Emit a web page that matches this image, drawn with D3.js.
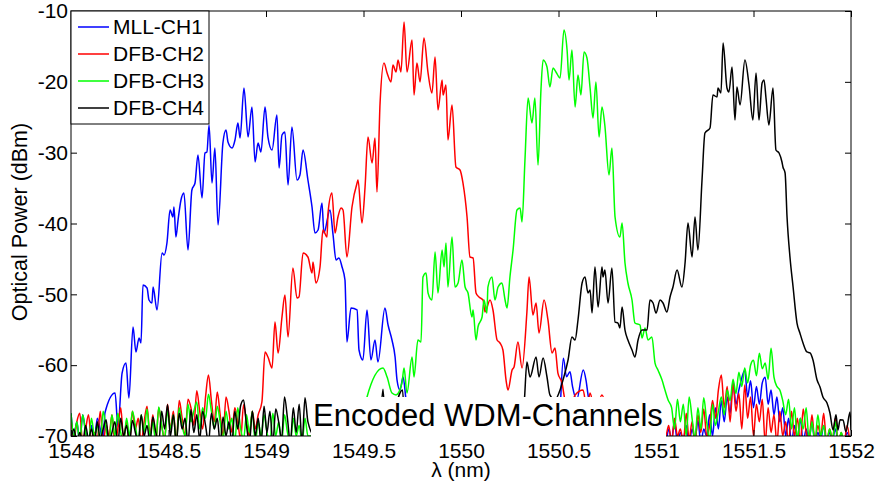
<!DOCTYPE html>
<html><head><meta charset="utf-8">
<script src="https://cdn.jsdelivr.net/npm/d3@7"></script>
<style>
body{margin:0;background:#fff}
text{font-family:"Liberation Sans",Arial,Helvetica,sans-serif}
</style>
</head><body>
<svg id="chart" width="881" height="486"></svg>
<script>
// ---------------- data ----------------
const seriesNames = ["MLL-CH1", "DFB-CH2", "DFB-CH3", "DFB-CH4"];
const seriesColors = ["#0000ff", "#ff0000", "#00ff00", "#000000"];
const xTicks = [1548, 1548.5, 1549, 1549.5, 1550, 1550.5, 1551, 1551.5, 1552];
const yTicks = [-70, -60, -50, -40, -30, -20, -10];
const xLabel = "λ (nm)";
const yLabel = "Optical Power (dBm)";
const annotation = "Encoded WDM-Channels";

// noise floor samples (regular wavelength grid, step in nm)
const floorStep = 0.015;
const leftFloorStart = 1548.0;
const blueRightStart = 1551.05, redRightStart = 1551.05, greenRightStart = 1551.08;

const blueFloorLeft = [-66.8,-70,-68,-71,-67,-69.5,-71,-68.5,-70.5,-67.5,-69,-71];
const redFloorLeft = [-67.5,-70.5,-68,-66.8,-71,-69,-67,-71,-69.5,-70.5,
  -66.5,-71,-68.5,-70,-67,-71,-69,-66,-70.5,-68,
  -71,-66.5,-69,-67.5,-71,-68,-65.8,-70,-67,-71,
  -66,-68.5,-70.5,-65.5,-69,-66.5,-71,-65,-67.5,-70,
  -64.8,-66,-68.5,-63.6,-66.5,-69,-64.5,-61.4,-65,-68,
  -63.8,-67,-70,-64.5,-66.5,-69.5,-66,-68,-70.5,-65.6,
  -68,-70,-66.5,-69,-67];
const greenFloorLeft = [-66.8,-70,-68,-71,-67,-69.5,-71,-67.5,-70,-68.5,
  -71,-66.5,-69,-71,-67,-70,-66.8,-69.5,-71,-67.5,
  -70,-66.5,-68.5,-71,-67,-69.5,-66.2,-70,-68,-71,
  -65.9,-68.5,-70.5,-66.5,-69,-67,-71,-66,-68.5,-70,
  -65.5,-68,-66.5,-65.2,-69,-66,-67.5,-64.1,-66.5,-69,
  -65.8,-68,-70.5,-66.5,-69,-67.5,-71,-66,-69,-70.5,
  -67,-69.5,-66.5,-71,-68,-70,-67,-69.5,-71,-66.8,
  -70,-68,-71,-67,-69.5,-71,-67.5,-70,-68.5,-71,
  -67.5,-70];
const blackFloorLeft = [-70.5,-69,-71,-69.5,-71,-68.5,-70.5,-69,-71,-68,
  -70.5,-69,-67.7,-71,-69.5,-68,-71,-67.5,-70,-68.5,
  -71,-67.8,-69.5,-71,-67,-70,-68.5,-71,-67.3,-69.5,
  -71,-66.5,-69,-65.6,-70,-67,-71,-66.8,-69,-67.5,
  -71,-66.3,-69.5,-67,-70.5,-66.5,-68.5,-71,-66.8,-69,
  -67.5,-71,-67.3,-70,-68,-71,-66.5,-69,-65.7,-64.9,
  -68.5,-71,-66.5,-70,-67.5,-71,-65.8,-69.5,-66.5,-71,
  -66.2,-68,-70.5,-64.5,-67.5,-71,-66,-69.5,-65.5,-71,
  -64.6,-68];

const blueFloorRight = [-71,-69,-70.5,-68,-71,-69.5,-70.5,-68.5,-71,-69,
  -70.5,-67.8,-71,-69,-70,-67,-70,-66,-69,-65,
  -68,-64.5,-66.8,-62.4,-65.5,-63.5,-61.8,-60.7,-64.5,-62.2,
  -66,-63,-65.5,-62.5,-61.7,-65.5,-63.5,-67,-64.5,-68,
  -66,-70,-67.5,-71,-68.5,-70.5,-67.5,-71,-69,-70.5,
  -68,-71,-69.5,-70.5,-68.5,-71,-69.5,-70.5,-69,-71,
  -70,-71,-69.5,-71];
const redFloorRight = [-70,-68.5,-71,-67.5,-70,-69,-71,-66.8,-70.5,-68,
  -71,-67,-69.5,-66.2,-70,-68.5,-65,-67.5,-63.5,-61.4,
  -66,-63,-68,-62.5,-66.5,-64,-69,-62.8,-67.5,-64.5,
  -70,-65.5,-68,-64.8,-71,-66,-69.5,-67,-71,-66.5,
  -70,-68,-71,-66.5,-70,-67.5,-71,-66.2,-69.5,-70.5,
  -67,-71,-68.5,-70,-66.8,-71,-69,-70.5,-67.5,-71,
  -69.5,-71,-68.5,-71];
const greenFloorRight = [-66,-69,-64.8,-68,-65.5,-70,-64.5,-67.5,-70.5,-66,
  -69,-64.6,-68,-70.5,-65.5,-68.5,-66.5,-64.5,-67,-63.5,
  -65,-62,-64,-61,-63,-60.4,-62.5,-60,-59.3,-61.5,
  -58.3,-60.5,-59.7,-62,-57.6,-61.7,-63,-63.5,-65,-67,
  -64.8,-69,-66,-70.5,-67.5,-69,-66,-70.5,-68,-71,
  -67,-70,-68.5,-71,-69,-70.5,-68,-71,-69.5,-71,
  -70,-71];

// main spectra: [wavelength nm, power dBm]
const blueMain = [[1548.174,-66.75],[1548.226,-63.93],[1548.241,-68.73],[1548.262,-61.11],[1548.282,-59.70],[1548.297,-64.64],[1548.318,-54.61],[1548.333,-58.14],[1548.349,-56.16],[1548.359,-56.87],[1548.369,-48.68],[1548.390,-49.11],[1548.400,-50.80],[1548.415,-51.22],[1548.421,-48.97],[1548.441,-52.21],[1548.467,-44.17],[1548.477,-44.45],[1548.492,-42.75],[1548.508,-38.09],[1548.523,-39.08],[1548.528,-37.67],[1548.538,-41.91],[1548.549,-39.51],[1548.564,-36.68],[1548.579,-35.69],[1548.600,-43.74],[1548.620,-35.27],[1548.636,-34.28],[1548.651,-30.33],[1548.672,-36.40],[1548.687,-30.05],[1548.697,-29.91],[1548.708,-26.09],[1548.723,-34.28],[1548.738,-29.34],[1548.754,-40.21],[1548.779,-28.64],[1548.795,-26.80],[1548.805,-28.49],[1548.826,-29.34],[1548.841,-28.21],[1548.856,-25.81],[1548.867,-27.93],[1548.887,-20.87],[1548.908,-27.79],[1548.928,-23.55],[1548.944,-31.32],[1548.959,-28.64],[1548.974,-29.91],[1548.995,-23.55],[1549.010,-27.79],[1549.031,-29.62],[1549.056,-24.68],[1549.067,-32.17],[1549.082,-27.51],[1549.097,-27.08],[1549.113,-34.57],[1549.133,-26.38],[1549.159,-33.86],[1549.174,-33.15],[1549.190,-29.62],[1549.215,-33.86],[1549.236,-37.67],[1549.251,-41.34],[1549.267,-40.92],[1549.287,-37.11],[1549.297,-41.34],[1549.328,-38.09],[1549.344,-41.62],[1549.359,-45.15],[1549.374,-44.87],[1549.390,-46.14],[1549.405,-47.98],[1549.415,-56.73],[1549.436,-51.93],[1549.467,-52.21],[1549.477,-57.86],[1549.497,-59.27],[1549.518,-52.21],[1549.538,-59.27],[1549.559,-56.45],[1549.574,-59.55],[1549.610,-51.93],[1549.626,-54.33],[1549.646,-56.45],[1549.662,-58.85],[1549.672,-62.10],[1549.687,-63.51],[1549.703,-61.67],[1549.718,-64.92],[1549.74,-70],[1550.0,-70.5],[1550.5,-69],[1550.525,-59.03],[1550.541,-61.63],[1550.559,-60.92],[1550.572,-63.04],[1550.593,-64.92],[1550.627,-60.68],[1550.641,-62.10],[1550.653,-64.45],[1550.67,-66.3],[1550.72,-69],[1551.0,-70.5]];

const redMain = [[1548.979,-65.20],[1548.995,-58.14],[1549.010,-58.85],[1549.031,-60.40],[1549.046,-53.91],[1549.062,-58.28],[1549.082,-53.20],[1549.097,-50.10],[1549.113,-56.02],[1549.138,-46.28],[1549.159,-50.52],[1549.169,-50.38],[1549.190,-44.17],[1549.215,-44.73],[1549.236,-46.99],[1549.241,-45.44],[1549.256,-48.40],[1549.277,-46.14],[1549.292,-40.92],[1549.313,-41.91],[1549.318,-38.52],[1549.338,-35.69],[1549.354,-41.34],[1549.369,-39.08],[1549.385,-37.81],[1549.395,-38.09],[1549.415,-44.73],[1549.441,-37.67],[1549.467,-34.28],[1549.472,-33.86],[1549.492,-39.93],[1549.508,-34.85],[1549.523,-27.79],[1549.544,-31.46],[1549.559,-27.93],[1549.569,-35.55],[1549.585,-22.99],[1549.605,-17.34],[1549.621,-18.75],[1549.641,-20.02],[1549.651,-17.62],[1549.667,-18.61],[1549.677,-16.92],[1549.692,-18.61],[1549.708,-11.55],[1549.723,-18.61],[1549.749,-14.09],[1549.759,-21.86],[1549.774,-17.34],[1549.790,-20.02],[1549.810,-13.81],[1549.831,-18.75],[1549.851,-21.58],[1549.867,-16.49],[1549.882,-23.98],[1549.903,-19.74],[1549.908,-21.86],[1549.923,-20.45],[1549.933,-28.21],[1549.954,-23.27],[1549.974,-32.02],[1549.995,-32.45],[1550.010,-34.28],[1550.031,-39.08],[1550.046,-44.73],[1550.062,-44.87],[1550.077,-49.81],[1550.092,-50.38],[1550.113,-50.80],[1550.123,-52.49],[1550.149,-50.80],[1550.164,-52.21],[1550.185,-56.45],[1550.200,-56.87],[1550.215,-57.86],[1550.231,-62.10],[1550.241,-63.51],[1550.262,-60.68],[1550.272,-60.26],[1550.292,-56.73],[1550.313,-60.40],[1550.338,-52.49],[1550.349,-47.55],[1550.369,-52.92],[1550.385,-51.22],[1550.400,-55.46],[1550.426,-50.80],[1550.446,-53.62],[1550.467,-58.28],[1550.482,-57.58],[1550.497,-61.11],[1550.518,-62.52],[1550.533,-64.9],[1550.559,-66.3],[1550.585,-64.2],[1550.626,-63.5],[1550.646,-66.3],[1550.662,-63.93],[1550.687,-66.8],[1550.723,-64.2],[1550.754,-67],[1550.8,-70],[1551.03,-69]];

const greenMain = [[1549.25,-70],[1549.45,-70.5],[1549.50,-68],[1549.518,-64.49],[1549.600,-60.40],[1549.621,-61.67],[1549.646,-63.93],[1549.667,-64.2],[1549.697,-62.52],[1549.708,-60.40],[1549.723,-63.93],[1549.749,-58.85],[1549.759,-61.67],[1549.779,-56.45],[1549.795,-56.73],[1549.805,-47.55],[1549.821,-46.99],[1549.831,-49.81],[1549.851,-50.80],[1549.867,-44.02],[1549.882,-49.81],[1549.903,-43.74],[1549.913,-46.14],[1549.923,-42.75],[1549.933,-48.97],[1549.954,-41.91],[1549.969,-48.97],[1549.985,-48.40],[1550.005,-45.15],[1550.021,-48.97],[1550.036,-49.81],[1550.056,-53.20],[1550.062,-52.21],[1550.077,-56.45],[1550.087,-54.61],[1550.108,-53.20],[1550.118,-50.80],[1550.133,-52.64],[1550.138,-48.97],[1550.159,-47.55],[1550.174,-50.80],[1550.190,-48.97],[1550.210,-48.40],[1550.226,-50.80],[1550.236,-51.93],[1550.251,-47.55],[1550.267,-43.74],[1550.287,-38.09],[1550.303,-37.81],[1550.313,-39.79],[1550.328,-31.04],[1550.344,-22.28],[1550.364,-25.81],[1550.379,-22.28],[1550.395,-31.75],[1550.410,-21.15],[1550.421,-16.92],[1550.441,-17.91],[1550.456,-20.73],[1550.472,-18.05],[1550.487,-18.61],[1550.508,-19.46],[1550.528,-12.68],[1550.544,-15.51],[1550.554,-19.74],[1550.569,-15.51],[1550.585,-23.55],[1550.600,-19.04],[1550.615,-21.86],[1550.631,-15.79],[1550.646,-16.64],[1550.662,-20.87],[1550.677,-25.11],[1550.692,-20.02],[1550.708,-27.79],[1550.723,-23.55],[1550.738,-26.24],[1550.759,-33.15],[1550.774,-29.34],[1550.790,-39.08],[1550.815,-41.91],[1550.826,-39.93],[1550.841,-45.58],[1550.856,-48.40],[1550.877,-50.80],[1550.892,-54.05],[1550.918,-54.33],[1550.928,-56.16],[1550.944,-54.75],[1550.959,-56.45],[1550.979,-56.02],[1550.995,-59.70],[1551.010,-60.68],[1551.031,-62.10],[1551.046,-63.51],[1551.062,-64.92]];

const blackMain = [[1549.25,-70],[1549.58,-70],[1549.60,-63.4],[1549.615,-70],[1549.70,-63.5],[1549.715,-70],[1550.30,-70],[1550.325,-65],[1550.338,-59.55],[1550.354,-61.67],[1550.385,-58.85],[1550.400,-61.67],[1550.421,-58.99],[1550.441,-61.67],[1550.456,-64.2],[1550.482,-64.9],[1550.508,-63.5],[1550.523,-62.10],[1550.549,-59.27],[1550.569,-56.02],[1550.585,-56.45],[1550.600,-53.62],[1550.621,-48.40],[1550.636,-47.55],[1550.651,-49.81],[1550.662,-49.4],[1550.672,-52.64],[1550.687,-46.14],[1550.703,-51.79],[1550.723,-46.14],[1550.728,-47.55],[1550.738,-46.57],[1550.754,-51.22],[1550.774,-46.28],[1550.790,-53.91],[1550.805,-54.05],[1550.815,-54.75],[1550.826,-51.79],[1550.841,-55.04],[1550.856,-56.45],[1550.877,-57.86],[1550.892,-58.85],[1550.908,-56.45],[1550.928,-55.04],[1550.954,-55.04],[1550.969,-50.80],[1550.985,-51.22],[1551.000,-52.64],[1551.021,-50.80],[1551.036,-51.22],[1551.056,-52.49],[1551.072,-50.38],[1551.087,-48.97],[1551.108,-46.57],[1551.133,-48.97],[1551.149,-45.58],[1551.164,-39.93],[1551.185,-44.73],[1551.200,-39.08],[1551.215,-43.74],[1551.236,-33.86],[1551.251,-27.22],[1551.277,-26.52],[1551.292,-21.86],[1551.313,-22.14],[1551.318,-20.87],[1551.333,-21.58],[1551.344,-14.52],[1551.364,-20.87],[1551.374,-21.44],[1551.390,-17.91],[1551.405,-25.39],[1551.415,-20.73],[1551.431,-23.27],[1551.456,-16.92],[1551.477,-20.45],[1551.497,-25.39],[1551.513,-18.75],[1551.528,-25.39],[1551.544,-20.16],[1551.554,-19.74],[1551.564,-22.28],[1551.579,-26.09],[1551.600,-20.87],[1551.615,-29.62],[1551.631,-30.05],[1551.646,-31.32],[1551.651,-32.02],[1551.662,-32.87],[1551.672,-39.08],[1551.687,-44.73],[1551.703,-48.97],[1551.723,-54.05],[1551.738,-55.46],[1551.754,-56.87],[1551.774,-58.14],[1551.790,-58.28],[1551.805,-59.27],[1551.826,-62.10],[1551.841,-63.08],[1551.856,-64.49],[1551.877,-65.34],[1551.892,-66.75],[1551.908,-69.15],[1551.923,-67.0],[1551.933,-69.15],[1551.944,-67.7],[1551.959,-67.74],[1551.974,-69.4],[1551.995,-66.61],[1552.0,-69.2]];

// ---------------- chart ----------------
const W = 881, H = 486;
const plot = {left: 71, right: 851, top: 11, bottom: 436};
const x = d3.scaleLinear().domain([1548, 1552]).range([plot.left, plot.right]);
const y = d3.scaleLinear().domain([-70, -10]).range([plot.bottom, plot.top]);

const grid = (vals, start) => vals.map((p, i) => [start + i * floorStep, p]);
const series = [
  grid(blueFloorLeft, leftFloorStart).concat(blueMain, grid(blueFloorRight, blueRightStart)),
  grid(redFloorLeft, leftFloorStart).concat(redMain, grid(redFloorRight, redRightStart)),
  grid(greenFloorLeft, leftFloorStart).concat(greenMain, grid(greenFloorRight, greenRightStart)),
  grid(blackFloorLeft, leftFloorStart).concat(blackMain)
];

const svg = d3.select("#chart");
svg.append("rect").attr("width", W).attr("height", H).attr("fill", "#fff");

svg.append("defs").append("clipPath").attr("id", "clip")
  .append("rect").attr("x", plot.left).attr("y", plot.top)
  .attr("width", plot.right - plot.left).attr("height", plot.bottom - plot.top);

const line = d3.line().curve(d3.curveMonotoneX).x(d => x(d[0])).y(d => y(d[1]));
const lines = svg.append("g").attr("clip-path", "url(#clip)");
series.forEach((s, i) => {
  lines.append("path").datum(s).attr("d", line)
    .attr("fill", "none").attr("stroke", seriesColors[i])
    .attr("stroke-width", 1.5).attr("stroke-linejoin", "round");
});

const fmt = d => String(d);
const styleAxis = g => {
  g.select(".domain").remove();
  g.selectAll("line").attr("stroke", "#000");
  g.selectAll("text").attr("fill", "#000").style("font-size", "21px")
    .style("font-family", '"Liberation Sans",Arial,sans-serif');
};
svg.append("g").attr("transform", `translate(0,${plot.bottom})`)
  .call(d3.axisBottom(x).tickValues(xTicks).tickFormat(fmt).tickSizeInner(-6).tickSizeOuter(0).tickPadding(7))
  .call(styleAxis);
svg.append("g").attr("transform", `translate(0,${plot.top})`)
  .call(d3.axisTop(x).tickValues(xTicks).tickFormat("").tickSizeInner(-6).tickSizeOuter(0))
  .call(styleAxis);
svg.append("g").attr("transform", `translate(${plot.left},0)`)
  .call(d3.axisLeft(y).tickValues(yTicks).tickFormat(fmt).tickSizeInner(-6).tickSizeOuter(0).tickPadding(3))
  .call(styleAxis);
svg.append("g").attr("transform", `translate(${plot.right},0)`)
  .call(d3.axisRight(y).tickValues(yTicks).tickFormat("").tickSizeInner(-6).tickSizeOuter(0))
  .call(styleAxis);

svg.append("rect").attr("x", plot.left).attr("y", plot.top)
  .attr("width", plot.right - plot.left).attr("height", plot.bottom - plot.top)
  .attr("fill", "none").attr("stroke", "#000").attr("stroke-width", 1);

// axis labels
svg.append("text").attr("x", (plot.left + plot.right) / 2).attr("y", 477)
  .attr("text-anchor", "middle").style("font-size", "21px").text(xLabel);
svg.append("text").attr("transform", "translate(27,222) rotate(-90)")
  .attr("text-anchor", "middle").style("font-size", "21.5px").text(yLabel);

// legend
const legend = svg.append("g");
legend.append("rect").attr("x", 71).attr("y", 11).attr("width", 138).attr("height", 113)
  .attr("fill", "#fff").attr("stroke", "#000").attr("stroke-width", 1);
seriesNames.forEach((n, i) => {
  const ly = 27 + i * 27;
  legend.append("line").attr("x1", 78).attr("x2", 109).attr("y1", ly).attr("y2", ly)
    .attr("stroke", seriesColors[i]).attr("stroke-width", 1.5);
  legend.append("text").attr("x", 113).attr("y", ly).attr("dy", "0.35em")
    .style("font-size", "21px").text(n);
});

// annotation box
svg.append("rect").attr("x", 311).attr("y", 397).attr("width", 355).attr("height", 40).attr("fill", "#fff");
svg.append("text").attr("x", 313).attr("y", 426).style("font-size", "31px").text(annotation);
</script>
</body></html>
